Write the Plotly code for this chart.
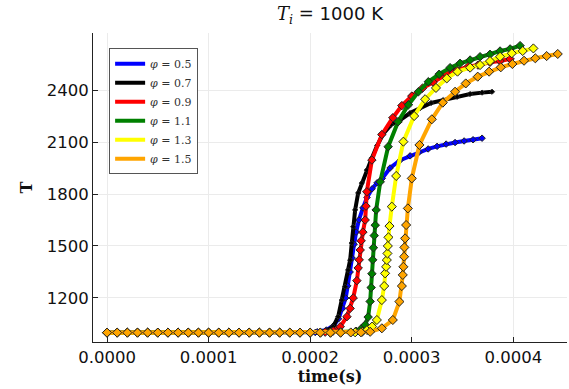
import plotly.graph_objects as go

# time in seconds, temperature in K
base_t = [0e-6, 10e-6, 20e-6, 30e-6, 40e-6, 50e-6, 60e-6, 70e-6, 80e-6, 90e-6,
          100e-6, 110e-6, 120e-6, 130e-6, 140e-6, 150e-6, 160e-6, 170e-6, 180e-6, 190e-6]
base_T = [1000] * 20

t_05 = base_t + [205e-6, 207e-6, 216e-6, 223e-6, 228e-6, 232e-6, 235e-6, 237e-6, 239.4e-6, 241.4e-6,
                 243.3e-6, 245.3e-6, 248e-6, 252e-6, 256e-6, 261e-6, 266e-6, 271e-6, 278.7e-6,
                 288.6e-6, 298.4e-6, 307.4e-6, 316.2e-6, 325e-6, 333.9e-6, 342.7e-6, 351.6e-6,
                 360.4e-6, 369.3e-6]
T_05 = base_T + [1001, 1005, 1015, 1040, 1080, 1140, 1200, 1270, 1350, 1430,
                 1510, 1580, 1650, 1720, 1780, 1830, 1865, 1890, 1950,
                 1995, 2020, 2042, 2060, 2075, 2088, 2097, 2106,
                 2113, 2122]

t_07 = base_t + [200e-6, 209.9e-6, 216.8e-6, 222.7e-6, 227.6e-6, 231.2e-6, 234.5e-6, 237.4e-6, 239.4e-6,
                 241e-6, 242.4e-6, 244.3e-6, 247.3e-6, 250.9e-6, 255.8e-6, 260.8e-6, 266e-6,
                 271.9e-6, 279.7e-6, 288.6e-6, 298.4e-6, 308.3e-6, 319.1e-6, 331e-6, 344.7e-6,
                 357.5e-6, 369.3e-6, 379.1e-6]
T_07 = base_T + [1000, 1003, 1012, 1034, 1092, 1188, 1265, 1361, 1419,
                 1517, 1611, 1708, 1806, 1863, 1938, 2008, 2080,
                 2146, 2200, 2227, 2267, 2296, 2325, 2342, 2361,
                 2377, 2385, 2390]

t_09 = base_t + [200e-6, 214.8e-6, 222.7e-6, 229.6e-6, 236.2e-6, 239.4e-6, 242.4e-6, 246e-6, 247.3e-6,
                 248.3e-6, 249.3e-6, 250.2e-6, 251.9e-6, 254.2e-6, 255e-6, 255.8e-6, 260.8e-6,
                 270.6e-6, 281.4e-6, 290.3e-6, 300.1e-6, 310.5e-6, 321.1e-6, 334.5e-6,
                 344.7e-6, 355.5e-6, 365.3e-6, 377.1e-6, 387e-6, 396.9e-6]
T_09 = base_T + [1000, 1003, 1010, 1034, 1092, 1140, 1200, 1300, 1373,
                 1420, 1477, 1530, 1580, 1650, 1730, 1813, 1996,
                 2143, 2240, 2310, 2365, 2410, 2445, 2491,
                 2515, 2535, 2544, 2560, 2567, 2579]

t_11 = base_t + [200e-6, 210e-6, 220e-6, 230e-6, 245.2e-6, 250.2e-6, 254.2e-6, 257.1e-6, 259.1e-6,
                 260.1e-6, 260.8e-6, 261.6e-6, 262.3e-6, 263.1e-6, 264.1e-6, 265e-6, 269e-6,
                 276.8e-6, 286.6e-6, 296.8e-6, 306.6e-6, 316.4e-6, 327e-6, 337.8e-6,
                 347.6e-6, 357.5e-6, 367.3e-6, 377.1e-6, 387e-6, 396.9e-6, 406.7e-6]
T_11 = base_T + [1000, 1000, 1001, 1003, 1008, 1022, 1045, 1090, 1180,
                 1260, 1340, 1420, 1490, 1560, 1620, 1708, 1870,
                 2073, 2217, 2315, 2390, 2448, 2491, 2529,
                 2554, 2573, 2592, 2606, 2625, 2637, 2656]

t_13 = base_t + [200e-6, 210e-6, 220e-6, 230e-6, 244.3e-6, 251.2e-6, 256.1e-6, 261e-6, 265.7e-6,
                 270.6e-6, 272.9e-6, 273.8e-6, 274.8e-6, 275.5e-6, 276.1e-6, 276.5e-6, 277.1e-6,
                 278.1e-6, 280.4e-6, 284.7e-6, 291.8e-6, 302.4e-6, 313.2e-6, 323.9e-6,
                 334.5e-6, 345.1e-6, 357.5e-6, 367.3e-6, 377.1e-6, 387e-6, 398.5e-6,
                 409.3e-6, 419.8e-6]
T_13 = base_T + [1000, 1000, 1000, 1001, 1002, 1005, 1015, 1035, 1073,
                 1188, 1269, 1342, 1380, 1419, 1457, 1500, 1550,
                 1615, 1727, 1904, 2102, 2250, 2347, 2412,
                 2467, 2506, 2529, 2544, 2567, 2592, 2612,
                 2625, 2640]

t_15 = base_t + [200e-6, 210e-6, 220e-6, 230e-6, 240e-6, 250e-6, 259.1e-6, 270.6e-6, 281.4e-6,
                 287.9e-6, 290.3e-6, 291.2e-6, 291.8e-6, 292.5e-6, 292.8e-6, 293.5e-6, 294.5e-6,
                 296.2e-6, 300.1e-6, 307.6e-6, 319.8e-6, 330.6e-6, 342.7e-6, 353.2e-6,
                 365e-6, 376.2e-6, 387.7e-6, 399.1e-6, 410.6e-6, 421.7e-6, 432.9e-6, 443.8e-6]
T_15 = base_T + [1000, 1000, 1000, 1000, 1001, 1002, 1005, 1025, 1073,
                 1179, 1269, 1333, 1380, 1438, 1492, 1544, 1621,
                 1717, 1890, 2083, 2231, 2327, 2390, 2438,
                 2477, 2506, 2531, 2550, 2569, 2583, 2596, 2608]

phis = ["0.5", "0.7", "0.9", "1.1", "1.3", "1.5"]
colors = ["#0000ff", "#000000", "#ff0000", "#008000", "#ffff00", "#ffa500"]
msizes = [5, 4, 6.5, 6.5, 7, 7]
times = [t_05, t_07, t_09, t_11, t_13, t_15]
temps = [T_05, T_07, T_09, T_11, T_13, T_15]

xticks = [0, 0.0001, 0.0002, 0.0003, 0.0004]
xtick_text = ["0.0000", "0.0001", "0.0002", "0.0003", "0.0004"]
yticks = [1200, 1500, 1800, 2100, 2400]

fig = go.Figure()
for phi, c, ms, tt, TT in zip(phis, colors, msizes, times, temps):
    fig.add_trace(go.Scatter(
        x=tt, y=TT, mode="lines+markers", showlegend=False,
        line=dict(color=c, width=4),
        marker=dict(symbol="diamond", size=ms, color=c, line=dict(color="#222222", width=1)),
    ))
for phi, c in zip(phis, colors):
    fig.add_trace(go.Scatter(
        x=[None], y=[None], mode="lines", name="<i>φ</i> = " + phi,
        line=dict(color=c, width=4),
    ))

axis_common = dict(
    showline=True, linecolor="#222222", linewidth=1, mirror=False,
    showgrid=True, gridcolor="#ebebeb", gridwidth=1,
    ticks="inside", ticklen=5, tickcolor="#222222",
    tickfont=dict(family="DejaVu Sans", size=16.5, color="#111111"),
    zeroline=False,
)
fig.update_xaxes(
    range=[-13.8e-6, 452.9e-6], tickvals=xticks, ticktext=xtick_text,
    title=dict(text="<b>time(s)</b>", font=dict(family="DejaVu Serif", size=16, color="#111111"), standoff=5),
    **axis_common,
)
fig.update_yaxes(
    range=[946, 2729], tickvals=yticks,
    title=dict(text="<b>T</b>", font=dict(family="DejaVu Serif", size=16, color="#111111"), standoff=10),
    **axis_common,
)
fig.update_layout(
    width=569, height=389,
    margin=dict(l=93, r=2, t=33, b=47),
    plot_bgcolor="white", paper_bgcolor="white",
    title=dict(
        text='<span style="font-family:\'DejaVu Serif\'"><i>T</i><sub><i>i</i></sub> = </span>1000 K',
        font=dict(family="DejaVu Sans", size=18, color="#111111"),
        x=330 / 569, xanchor="center", y=1 - 14 / 389, yanchor="middle",
    ),
    legend=dict(
        x=0.034, y=0.951, xanchor="left", yanchor="top",
        bgcolor="white", bordercolor="#555555", borderwidth=1,
        font=dict(family="DejaVu Serif", size=11, color="#333333"),
        tracegroupgap=0, itemwidth=30,
    ),
)
fig.write_html("out.html")
